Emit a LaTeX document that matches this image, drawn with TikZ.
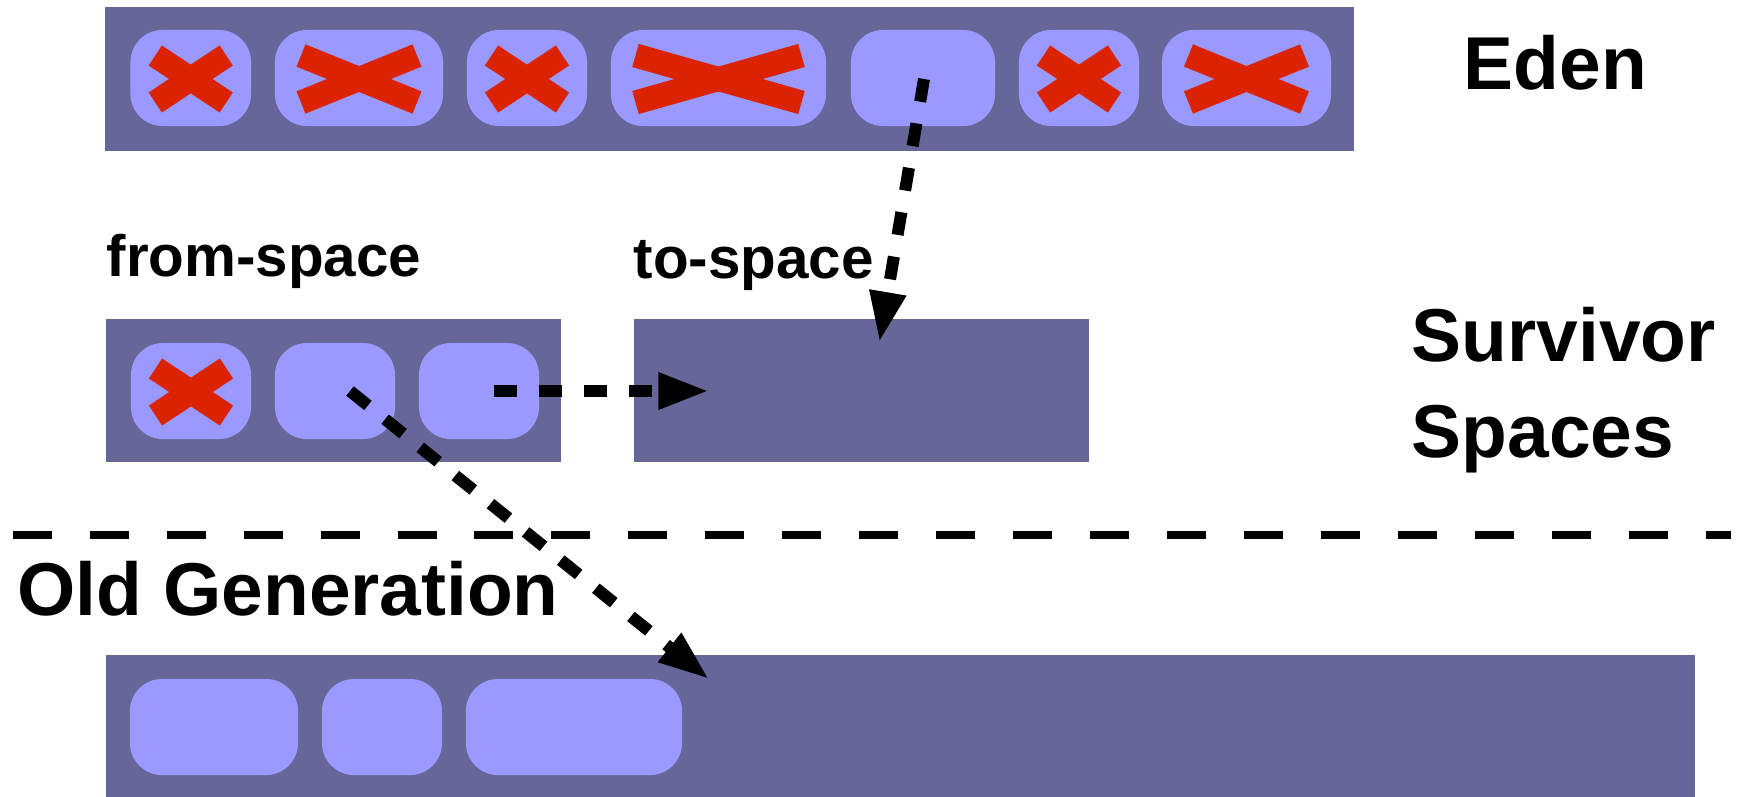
\documentclass[tikz,border=0pt]{standalone}
\usepackage{fontspec}
\setmainfont{Liberation Sans}
\usetikzlibrary{arrows.meta,calc}
\definecolor{barc}{HTML}{666699}
\definecolor{cellc}{HTML}{9999FF}
\definecolor{xred}{HTML}{DC2300}
\newcommand\redcross[2]{%
  \draw[xmark] ($(#1.center)+(-#2,-22.5)$) -- ($(#1.center)+(#2,24.5)$);
  \draw[xmark] ($(#1.center)+(-#2,24.5)$) -- ($(#1.center)+(#2,-22.5)$);}
\begin{document}
\begin{tikzpicture}[x=0.01cm,y=-0.01cm,
  bar/.style={fill=barc, draw=none, inner sep=0, outer sep=0},
  cell/.style={fill=cellc, draw=none, rounded corners=0.32cm, minimum height=0.96cm, inner sep=0, outer sep=0},
  xmark/.style={draw=xred, line width=0.24cm, line cap=butt},
  big/.style={font=\fontsize{21.3}{25}\selectfont\bfseries, inner sep=0, anchor=base west},
  small/.style={font=\fontsize{16.6}{19}\selectfont\bfseries, inner sep=0, anchor=base west},
  flow/.style={line width=0.12cm, line cap=butt, dash pattern=on 0.23cm off 0.22cm, -{Triangle[length=0.51cm,width=0.34cm]}},
  sepline/.style={line width=0.08cm, line cap=butt, dash pattern=on 0.39cm off 0.379cm}]
\useasboundingbox (0,0) rectangle (1738,796);
\fill[white] (0,0) rectangle (1738,796);
% bars
\node[bar, minimum width=12.49cm, minimum height=1.44cm] (eden) at (729.5,79) {};
\node[bar, minimum width=4.55cm, minimum height=1.43cm] (from) at (333.5,390.5) {};
\node[bar, minimum width=4.55cm, minimum height=1.43cm] (to) at (861.5,390.5) {};
\node[bar, minimum width=15.89cm, minimum height=1.45cm] (old) at (900.5,727.5) {};
% eden cells
\node[cell, minimum width=1.205cm] (e1) at (190.75,78) {};
\node[cell, minimum width=1.68cm] (e2) at (359,78) {};
\node[cell, minimum width=1.20cm] (e3) at (527,78) {};
\node[cell, minimum width=2.15cm] (e4) at (718.5,78) {};
\node[cell, minimum width=1.44cm] (e5) at (923,78) {};
\node[cell, minimum width=1.20cm] (e6) at (1079,78) {};
\node[cell, minimum width=1.69cm] (e7) at (1246.5,78) {};
% from-space cells
\node[cell, minimum width=1.20cm] (f1) at (191,391) {};
\node[cell, minimum width=1.20cm] (f2) at (335,391) {};
\node[cell, minimum width=1.20cm] (f3) at (479,391) {};
% old generation cells
\node[cell, minimum width=1.68cm] (o1) at (214,727) {};
\node[cell, minimum width=1.20cm] (o2) at (382,727) {};
\node[cell, minimum width=2.16cm] (o3) at (574,727) {};
% crosses
\redcross{e1}{35.5}
\redcross{e2}{58}
\redcross{e3}{35.5}
\redcross{e4}{83}
\redcross{e6}{35.5}
\redcross{e7}{58}
\redcross{f1}{35.5}
% labels
\node[big] (edenlbl) at (1463,89) {Eden};
\node[big] (survlbl) at (1411,361) {Survivor};
\node[big] (spaceslbl) at (1411,457) {Spaces};
\node[big] (oldlbl) at (17,615) {Old Generation};
\node[small] (fromlbl) at (106,276.7) {from-space};
\node[small] (tolbl) at (633,278.3) {to-space};
% separator
\coordinate (sepL) at (12.8,535);
\coordinate (sepR) at (1731,535);
\draw[sepline] (sepL) -- (sepR);
% arrows
\coordinate (a1s) at ($(e5.center)+(1,1)$);
\coordinate (a1e) at (879.3,342.7);
\coordinate (a2s) at ($(f3.center)+(15,0)$);
\coordinate (a2e) at (709.3,391);
\coordinate (a3s) at ($(f2.center)+(15,0)$);
\coordinate (a3e) at (709.3,679.3);
\draw[flow] (a1s) -- (a1e);
\draw[flow] (a2s) -- (a2e);
\draw[flow] (a3s) -- (a3e);
\end{tikzpicture}
\end{document}
